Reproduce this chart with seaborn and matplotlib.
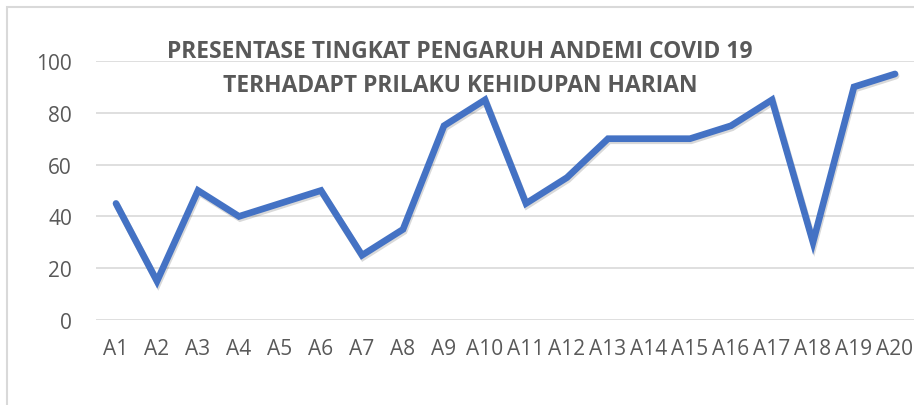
import numpy as np
import pandas as pd
import matplotlib as mpl
mpl.use("Agg")
import matplotlib.pyplot as plt
import matplotlib.patheffects as pe
from matplotlib.patches import Rectangle
import seaborn as sns

# data
labels = ["A" + str(i) for i in range(1, 21)]
values = [45, 15, 50, 40, 45, 50, 25, 35, 75, 85, 45, 55, 70, 70, 70, 75, 85, 30, 90, 95]
title_lines = ["PRESENTASE TINGKAT PENGARUH ANDEMI COVID 19",
               "TERHADAPT PRILAKU KEHIDUPAN HARIAN"]
yticks = [0, 20, 40, 60, 80, 100]

sns.set_style("white")
plt.rcParams["font.family"] = ["Open Sans", "DejaVu Sans"]

df = pd.DataFrame({"kode": labels, "persen": values})

fig = plt.figure(figsize=(9.14, 4.06), dpi=100)
ax = fig.add_axes([95.5 / 914, 1 - 321 / 406, (915.5 - 95.5) / 914, (321 - 62) / 406])

sns.lineplot(data=df, x="kode", y="persen", ax=ax, color="#4472C4", linewidth=4.8,
             solid_joinstyle="miter", solid_capstyle="round",
             path_effects=[pe.SimpleLineShadow(offset=(0.8, -1.5), alpha=0.15, shadow_color="black"),
                           pe.Normal()])

ax.set_xlim(-0.5, len(labels) - 0.5)
ax.set_ylim(0, 100)
ax.set_yticks(yticks)
ax.yaxis.grid(True, color="#D9D9D9", linewidth=1.2)
ax.set_axisbelow(True)
for s in ax.spines.values():
    s.set_visible(False)
ax.set_xlabel("")
ax.set_ylabel("")
ax.tick_params(axis="y", length=0, pad=17, labelsize=15, labelcolor="#595959")
ax.tick_params(axis="x", length=0, pad=13, labelsize=15, labelcolor="#595959")

fig.text(460 / 914, 1 - 52 / 406, title_lines[0], ha="center", va="center",
         fontsize=16.5, fontweight="bold", color="#595959")
fig.text(460 / 914, 1 - 86 / 406, title_lines[1], ha="center", va="center",
         fontsize=16.5, fontweight="bold", color="#595959")

# outer chart border (top and left visible)
fig.add_artist(Rectangle((7.5 / 914, -0.1), 1.0, 1.1 - 7.5 / 406, transform=fig.transFigure,
                         fill=False, edgecolor="#D9D9D9", linewidth=1.5))

fig.savefig("out.png", dpi=100)
